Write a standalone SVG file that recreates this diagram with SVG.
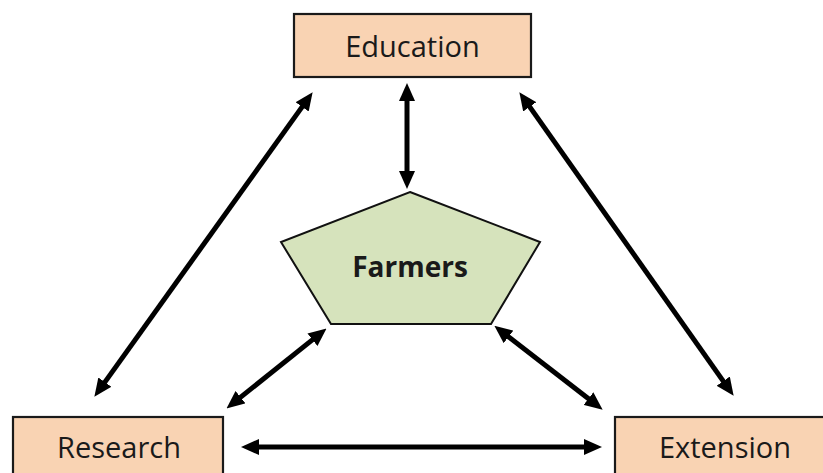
<svg xmlns="http://www.w3.org/2000/svg" width="823" height="473" viewBox="0 0 823 473">
<style>
.box{fill:#F9D3B3;stroke:#1a1a1a;stroke-width:2.2}
.pent{fill:#D6E3BC;stroke:#111;stroke-width:2}
.lbl{font-family:"Open Sans","Liberation Sans",sans-serif;font-size:29px;fill:#1a1a1a;text-anchor:middle}
.bold{font-weight:bold;font-size:28px}
.conn line{stroke:#000;stroke-width:5;marker-start:url(#ah);marker-end:url(#ah)}
</style>
<defs>
<marker id="ah" markerUnits="userSpaceOnUse" markerWidth="18" markerHeight="16" refX="3" refY="8" orient="auto-start-reverse" viewBox="0 0 18 16">
<path d="M0,0 L18,8 L0,16 z" fill="#000"/>
</marker>
</defs>
<rect width="823" height="473" fill="#fff"/>
<g id="connectors" class="conn">
<line x1="407" y1="98" x2="407" y2="174"/>
<line x1="303.9" y1="104.4" x2="103.1" y2="384.6"/>
<line x1="528" y1="104.4" x2="725" y2="383.6"/>
<line x1="314.8" y1="337.9" x2="238.2" y2="399.1"/>
<line x1="506.2" y1="335" x2="590.8" y2="400.5"/>
<line x1="256" y1="447" x2="587" y2="447"/>
</g>
<g id="education">
<rect class="box" x="294" y="14" width="237" height="63"/>
<text class="lbl" x="412.5" y="57">Education</text>
</g>
<g id="farmers">
<polygon class="pent" points="410,192 540,242 491,324 331,324 281,242"/>
<text class="lbl bold" x="410" y="277">Farmers</text>
</g>
<g id="research">
<rect class="box" x="13" y="417" width="210" height="70"/>
<text class="lbl" x="119" y="458">Research</text>
</g>
<g id="extension">
<rect class="box" x="615" y="417" width="220" height="70"/>
<text class="lbl" x="725" y="458">Extension</text>
</g>
</svg>
